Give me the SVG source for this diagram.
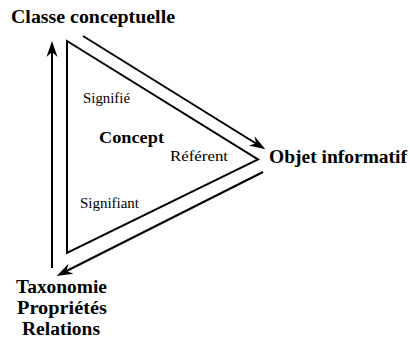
<svg xmlns="http://www.w3.org/2000/svg" width="410" height="340" viewBox="0 0 410 340">
<style>
text{font-family:'Liberation Serif',Tinos,'Times New Roman',Times,serif;fill:#000}
.b{font-weight:bold;font-size:18px}
.r{font-size:14.5px}
.ln{stroke:#000;stroke-width:2;fill:none}
</style>
<defs>
<marker id="ah" markerUnits="userSpaceOnUse" markerWidth="20" markerHeight="14" viewBox="-6 -7 20 14" refX="0" refY="0" orient="auto">
<path d="M11,0 L-5,-5.5 L0,0 L-5,5.5 Z" fill="#000"/>
</marker>
</defs>
<rect width="410" height="340" fill="#fff"/>
<g id="triangle">
<polygon class="ln" points="67,41 258,159.5 67,253"/>
</g>
<g id="connectors">
<line class="ln" x1="83" y1="36" x2="256" y2="143.5" marker-end="url(#ah)"/>
<line class="ln" x1="52" y1="268" x2="52" y2="52" marker-end="url(#ah)"/>
<line class="ln" x1="263" y1="172" x2="66.5" y2="271" marker-end="url(#ah)"/>
</g>
<g id="classe"><text class="b" x="11" y="22.5" font-family="Liberation Serif" textLength="164" lengthAdjust="spacingAndGlyphs">Classe conceptuelle</text></g>
<g id="objet"><text class="b" x="269" y="163" textLength="138" lengthAdjust="spacingAndGlyphs">Objet informatif</text></g>
<g id="taxo">
<text class="b" x="16" y="293" textLength="91" lengthAdjust="spacingAndGlyphs">Taxonomie</text>
<text class="b" x="17" y="314" textLength="90" lengthAdjust="spacingAndGlyphs">Propriétés</text>
<text class="b" x="22" y="335" textLength="78" lengthAdjust="spacingAndGlyphs">Relations</text>
</g>
<g id="concept">
<text class="b" x="99" y="142.5" style="font-size:17px" textLength="65" lengthAdjust="spacingAndGlyphs">Concept</text>
<text class="r" x="83" y="103" textLength="47" lengthAdjust="spacingAndGlyphs">Signifié</text>
<text class="r" x="170" y="161" textLength="58" lengthAdjust="spacingAndGlyphs">Référent</text>
<text class="r" x="80" y="208" textLength="59" lengthAdjust="spacingAndGlyphs">Signifiant</text>
</g>
</svg>
